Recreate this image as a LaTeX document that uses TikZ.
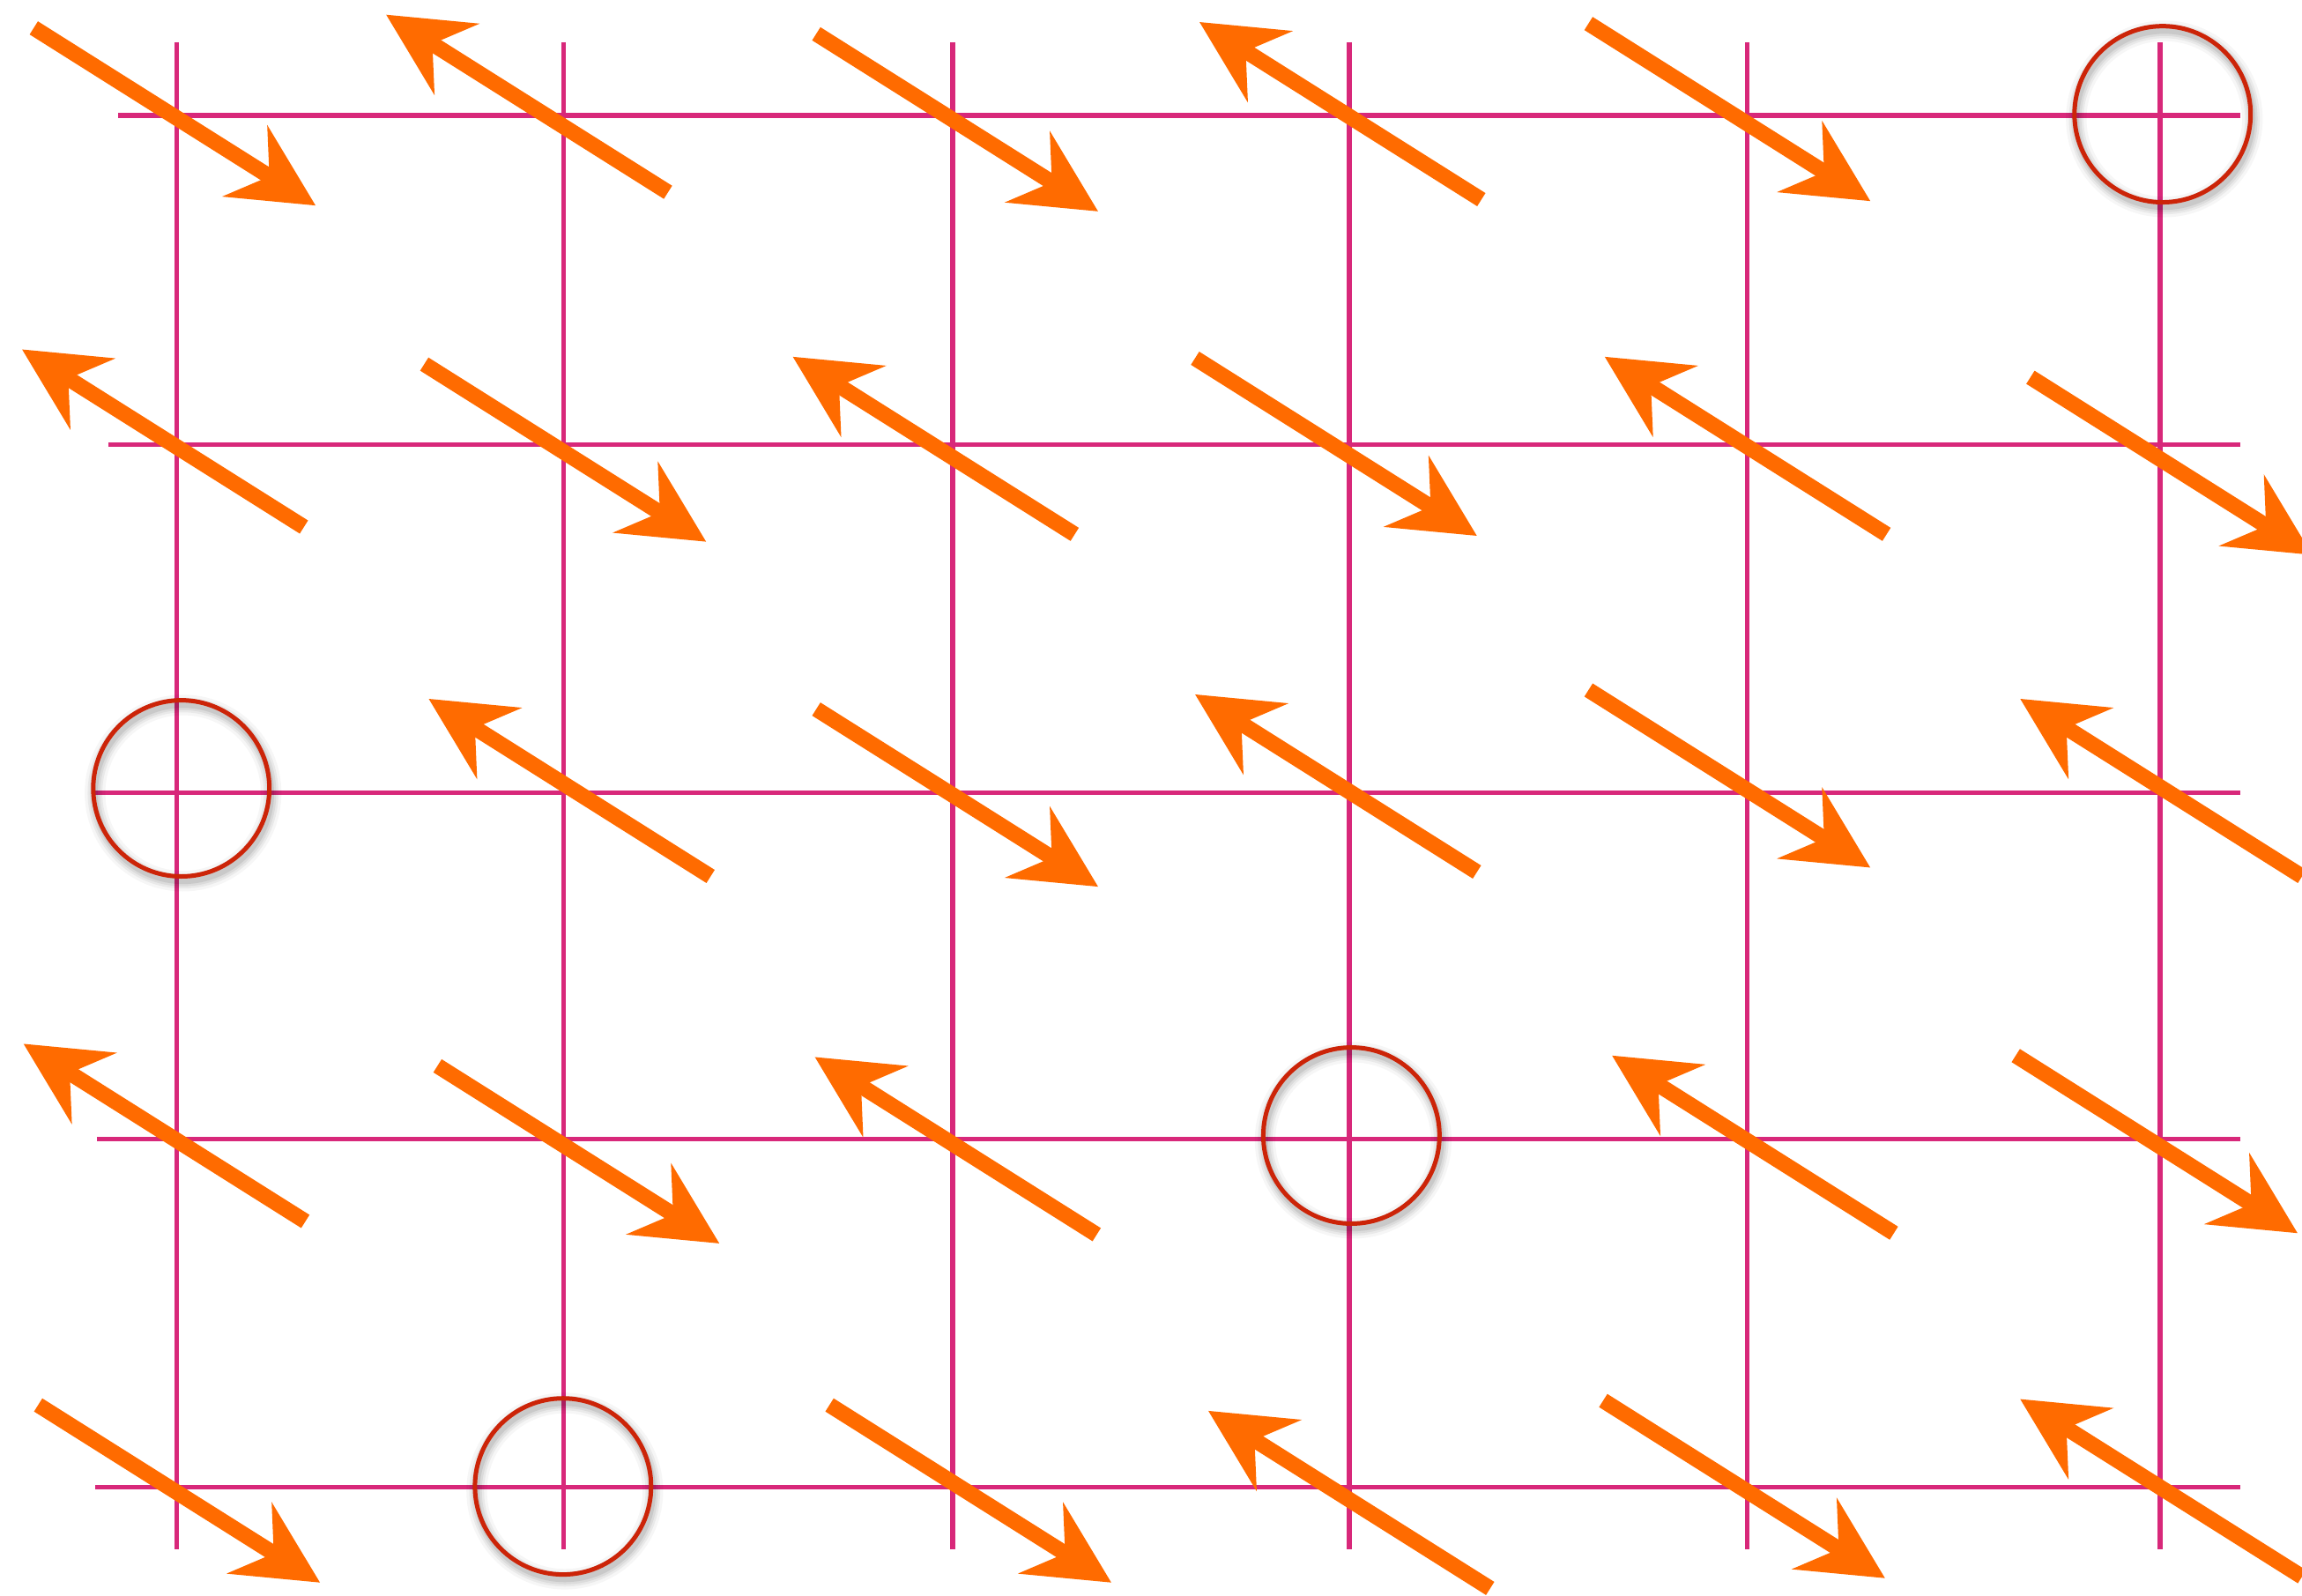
\documentclass[tikz,border=0pt]{standalone}
\usetikzlibrary{arrows.meta}
\definecolor{gridc}{RGB}{216,40,122}
\definecolor{arrc}{RGB}{255,107,0}
\definecolor{circc}{RGB}{204,36,8}
\begin{document}
\begin{tikzpicture}[x=0.5pt,y=-0.5pt,
  gridline/.style={gridc, line width=1.6pt},
  spin/.style={arrc, line width=5.3pt, -{Stealth[length=28.2pt,width=28.2pt,inset=9.6pt]}},
  ring/.style={circc, line width=1.5pt}]
\useasboundingbox[fill=white] (0,0) rectangle (1568,1087);
% grid
\foreach \gx in {120.3,384,649,919,1190,1471.4}
  \draw[gridline] (\gx,28.8) -- (\gx,1055.5);
\foreach \gs/\gy in {80.7/78.6,74/303,65/540,66/776,65/1013}
  \draw[gridline] (\gs,\gy) -- (1526,\gy);
% rings with soft shadow
\foreach \n/\x/\y in {c1/1473/77.8, c2/123.5/537, c3/920.5/773.5, c4/383.5/1012.5} {
  \coordinate (\n) at (\x,\y);
  \foreach \w/\o in {7/0.035, 5/0.05, 3.5/0.06, 2/0.08}
    \draw[black, opacity=\o, line width=\w pt] ([xshift=0.6pt,yshift=-1.6pt]\n) circle[radius=30pt];
  \draw[ring] (\n) circle[radius=30pt];
}
% arrows pointing down-right (tip given)
\foreach \n/\x/\y in {a1/215/140, a3/748/144, a5/1274/137, b2/481/369, b4/1006/365, b6/1575/378,
  c3/748/604, c5/1274/591, d2/490/847, d6/1565/840, e1/218/1078, e3/757/1078, e5/1284/1075} {
  \coordinate (\n h) at (\x,\y);
  \coordinate (\n t) at (\x-192,\y-121);
  \draw[spin] (\n t) -- (\n h);
}
% arrows pointing up-left (tip given)
\foreach \n/\x/\y in {a2/263/10, a4/817/15, b1/15/238, b3/540/243, b5/1093/243, c2/292/476,
  c4/814/473, c6/1376/476, d1/16/711, d3/555/720, d5/1098/719, e4/823/961, e6/1376/953} {
  \coordinate (\n h) at (\x,\y);
  \coordinate (\n t) at (\x+192,\y+121);
  \draw[spin] (\n t) -- (\n h);
}
\end{tikzpicture}
\end{document}
